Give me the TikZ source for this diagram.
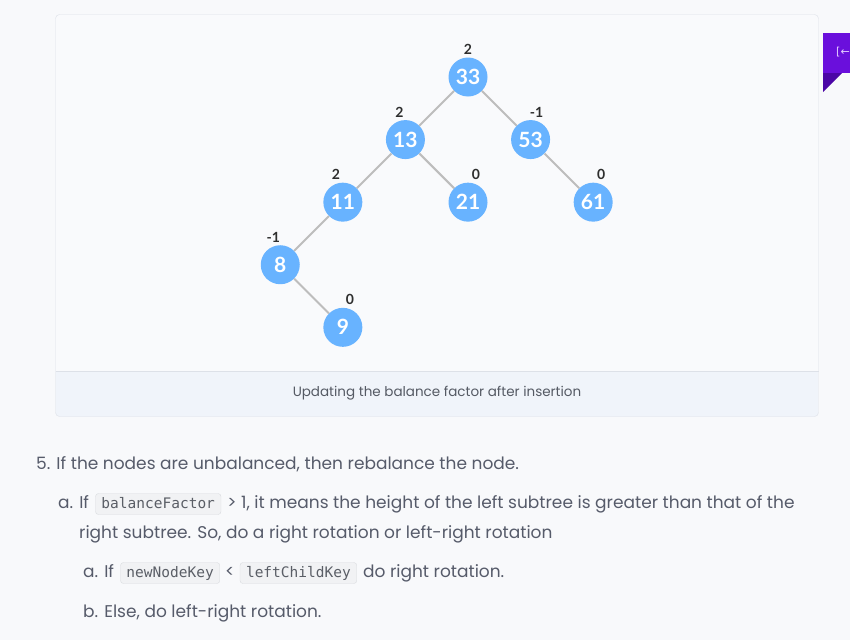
\documentclass[tikz,border=0pt]{standalone}
\usepackage{fontspec}
\setmainfont{Poppins}
\newfontfamily\latofont{Lato}
\newfontfamily\codefont{DejaVu Sans Mono}
\newfontfamily\iconfont{DejaVu Sans}
\usetikzlibrary{positioning}

\definecolor{pagebg}{HTML}{F8F9FB}
\definecolor{figbg}{HTML}{F9FAFC}
\definecolor{figborder}{HTML}{DDE1E8}
\definecolor{capbg}{HTML}{F0F4FA}
\definecolor{avlblue}{HTML}{68B3FF}
\definecolor{edgegray}{HTML}{BDBDBD}
\definecolor{baltext}{HTML}{2E2E2E}
\definecolor{captext}{HTML}{555A64}
\definecolor{bodytext}{HTML}{565B6A}
\definecolor{codebg}{HTML}{F1F2F4}
\definecolor{codeborder}{HTML}{DADCE0}
\definecolor{codetext}{HTML}{5A5E66}
\definecolor{tabpurple}{HTML}{6A0FDC}
\definecolor{tabdark}{HTML}{4B06A6}
\definecolor{tabicon}{HTML}{E4CCFF}

\begin{document}
\begin{tikzpicture}[x=1pt, y=-1pt, node distance=88.5pt,
    avl/.style={circle, fill=avlblue, minimum size=39pt, inner sep=0pt, text=white,
                font=\latofont\bfseries\fontsize{21}{21}\selectfont},
    bal/.style={font=\latofont\bfseries\fontsize{14}{14}\selectfont, text=baltext, inner sep=0pt},
    link/.style={draw=edgegray, line width=2pt},
    body/.style={font=\fontsize{17}{17}\selectfont, text=bodytext, inner sep=0pt, anchor=base west},
    code/.style={draw=codeborder, fill=codebg, rounded corners=3pt, anchor=base west,
                 font=\codefont\fontsize{14.5}{14.5}\selectfont, text=codetext,
                 text height=11pt, text depth=3pt, inner xsep=6pt, inner ysep=3.5pt},
    every label/.style={label distance=2.5pt}]

    % page and figure frame
    \fill[pagebg] (0,0) rectangle (850,640);
    \useasboundingbox (0,0) rectangle (850,640);
    \fill[figbg, rounded corners=4pt] (55.5,14.5) rectangle (818.5,416.5);
    \begin{scope}
        \clip[rounded corners=4pt] (55.5,14.5) rectangle (818.5,416.5);
        \fill[capbg] (55,371) rectangle (819,417);
    \end{scope}
    \draw[figborder] (55.5,371) -- (818.5,371);
    \draw[figborder, rounded corners=4pt] (55.5,14.5) rectangle (818.5,416.5);

    % tree
    \node[avl, label={[bal]above:2}]                (n33) at (468,77)       {33};
    \node[avl, label={[bal, xshift=-6pt]above:2}]  (n13) [below left of=n33]  {13};
    \node[avl, label={[bal, xshift=6pt]above:-1}]  (n53) [below right of=n33] {53};
    \node[avl, label={[bal, xshift=-7pt]above:2}]  (n11) [below left of=n13]  {11};
    \node[avl, label={[bal, xshift=8pt]above:0}]   (n21) [below right of=n13] {21};
    \node[avl, label={[bal, xshift=8pt]above:0}]   (n61) [below right of=n53] {61};
    \node[avl, label={[bal, xshift=-7pt]above:-1}] (n8)  [below left of=n11]  {8};
    \node[avl, label={[bal, xshift=7pt]above:0}]   (n9)  [below right of=n8]  {9};

    \path[link] (n33) -- (n13)
                (n33) -- (n53)
                (n13) -- (n11)
                (n13) -- (n21)
                (n53) -- (n61)
                (n11) -- (n8)
                (n8) -- (n9);

    \node[font=\fontsize{13.5}{13.5}\selectfont, text=captext] (cap) at (437,393)
        {Updating the balance factor after insertion};

    % tab at the right edge
    \fill[tabpurple] (823,33) rectangle (850,73);
    \fill[tabdark] (823,73) -- (842,73) -- (823,92) -- cycle;
    \node[font=\iconfont\fontsize{11}{11}\selectfont, text=tabicon, anchor=west, inner sep=0pt] (icon) at (836,52) {[←};

    % steps below the figure
    \node[body] (s5) at (36,469) {5. If the nodes are unbalanced, then rebalance the node.};

    \node[body] (sa) at (58,508) {a. If};
    \node[code, xshift=6pt] (bf) at (sa.base east) {balanceFactor};
    \node[body, xshift=6pt] (sa2) at (bf.base east) {> 1, it means the height of the left subtree is greater than that of the};
    \node[body] (sa3) at (79,538) {right subtree. So, do a right rotation or left-right rotation};

    \node[body] (sb) at (83,577) {a. If};
    \node[code, xshift=6pt] (nk) at (sb.base east) {newNodeKey};
    \node[body, xshift=5pt] (lt) at (nk.base east) {<};
    \node[code, xshift=5pt] (lk) at (lt.base east) {leftChildKey};
    \node[body, xshift=6pt] (sb2) at (lk.base east) {do right rotation.};

    \node[body] (sc) at (83,617) {b. Else, do left-right rotation.};
\end{tikzpicture}
\end{document}
